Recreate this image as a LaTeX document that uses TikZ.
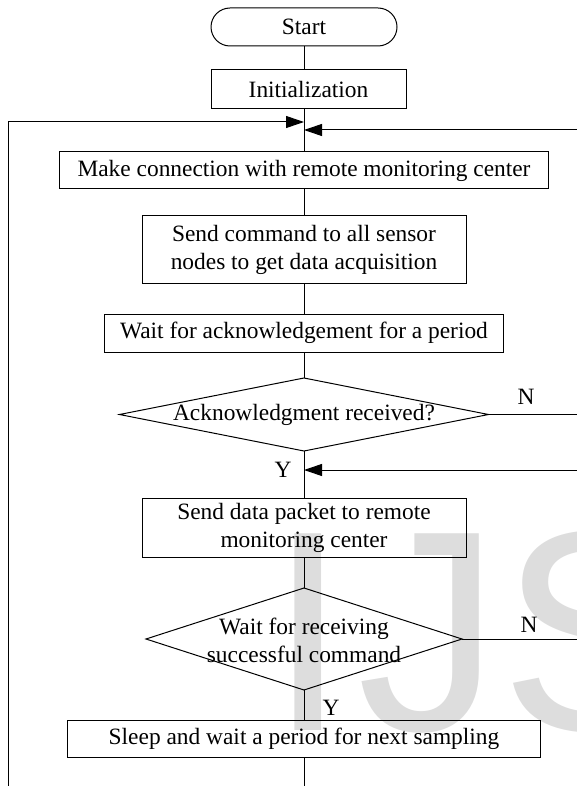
\documentclass[tikz,border=0pt]{standalone}
\usepackage{fontspec}
\setmainfont{Liberation Serif}
\newfontfamily\wmfont{Liberation Sans}
\usetikzlibrary{shapes.geometric,shapes.misc,arrows.meta}
\definecolor{wm}{RGB}{221,221,221}
\begin{document}
\begin{tikzpicture}[x=1pt,y=-1pt,line width=1pt,
  font=\fontsize{23.4}{28}\selectfont,
  box/.style={draw, rectangle, inner sep=0pt, outer sep=0pt, align=center},
  dec/.style={draw, diamond, inner sep=0pt, outer sep=0pt},
  term/.style={draw, rounded rectangle, inner sep=0pt, outer sep=0pt},
  arr/.style={-{Triangle[length=18pt,width=12pt]}},
  lbl/.style={inner sep=0pt, align=center},
  wmark/.style={text=wm, inner sep=0pt, anchor=base west, font=\wmfont\fontsize{286}{286}\selectfont}
]
\useasboundingbox (0,0) rectangle (577,786);
% watermark
\node[wmark] (wI) at (268,730) {I};
\node[wmark] (wJ) at (357,730) {J};
\node[wmark] (wS) at (500,730) {S};
% nodes
\node[term, minimum width=186pt, minimum height=38pt] (start) at (304,27) {Start};
\node[box, minimum width=195pt, minimum height=39pt] (init) at (308.5,89.5) {Initialization};
\node[box, minimum width=489pt, minimum height=37pt] (conn) at (304,170.5) {Make connection with remote monitoring center};
\node[box, minimum width=324pt, minimum height=67pt] (cmd) at (304,249.5) {Send command to all sensor\\nodes to get data acquisition};
\node[box, minimum width=399pt, minimum height=38pt] (wait) at (304,333) {Wait for acknowledgement for a period};
\node[dec, minimum width=369pt, minimum height=73pt] (d1) at (304,414.5) {};
\node[lbl] (d1t) at (d1) {Acknowledgment received?};
\node[box, minimum width=324pt, minimum height=59pt] (data) at (304,527.5) {Send data packet to remote\\monitoring center};
\node[dec, minimum width=316pt, minimum height=102pt] (d2) at (304,639) {};
\node[lbl] (d2t) at (304,640) {Wait for receiving\\successful command};
\node[box, minimum width=473pt, minimum height=37pt] (sleep) at (304,738.5) {Sleep and wait a period for next sampling};
% labels
\node[lbl] (n1) at (526,397) {N};
\node[lbl] (y1) at (283,470) {Y};
\node[lbl] (n2) at (529,625) {N};
\node[lbl] (y2) at (331,708) {Y};
% coordinates
\coordinate (mL) at (304,122);
\coordinate (mR) at (304,130);
\coordinate (lB) at (8,786);
\coordinate (rT) at (577,130);
\coordinate (rN1) at (577,414.5);
\coordinate (rY) at (577,470);
\coordinate (mY) at (304,470);
\coordinate (rN2) at (577,639);
\coordinate (sB) at (304,786);
% connectors
\draw (start.south) -- (start.south |- init.north);
\draw (start.south |- init.south) -- (conn.north);
\draw[arr] (lB) |- (mL);
\draw[arr] (rT) -- (mR);
\draw (conn) -- (cmd);
\draw (cmd) -- (wait);
\draw (wait) -- (d1);
\draw (d1) -- (data);
\draw (data) -- (d2);
\draw (d2) -- (sleep);
\draw (sleep) -- (sB);
\draw (d1.east) -- (rN1);
\draw (d2.east) -- (rN2);
\draw[arr] (rY) -- (mY);
\end{tikzpicture}
\end{document}
